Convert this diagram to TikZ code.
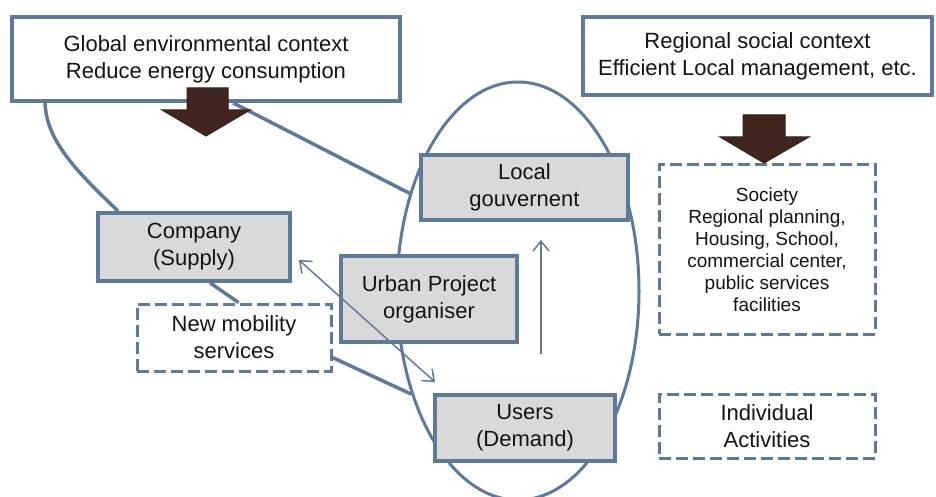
\documentclass[tikz,border=0pt]{standalone}
\usepackage{fontspec}
\setmainfont{Liberation Sans}
\usetikzlibrary{shapes.geometric,arrows.meta,calc}
\definecolor{edge}{RGB}{95,122,153}
\definecolor{boxgray}{RGB}{217,217,217}
\definecolor{brownarrow}{RGB}{64,38,30}
\definecolor{txt}{RGB}{20,20,20}
\begin{document}
\begin{tikzpicture}[x=1pt,y=-1pt,
  box/.style={draw=edge, line width=3.8pt, fill=boxgray, align=center, inner sep=0pt,
              font=\fontsize{22}{27}\selectfont, text=txt},
  ctxbox/.style={box, fill=white},
  dbox/.style={box, fill=white, dash pattern=on 12pt off 5pt, line width=3pt},
  conn/.style={draw=edge, line width=3.5pt},
  thinarrow/.style={draw=edge, line width=1.5pt, -{Straight Barb[length=10pt,width=16pt]}},
  thindouble/.style={draw=edge, line width=1.5pt, {Straight Barb[length=10pt,width=16pt]}-{Straight Barb[length=10pt,width=16pt]}},
  blockarrow/.style={fill=brownarrow, draw=brownarrow!85!black, line width=1pt, line join=miter},
]
\useasboundingbox (0,0) rectangle (936,497);
% ellipse
\node[ellipse, draw=edge, line width=3pt, minimum width=242pt, minimum height=418pt, inner sep=0pt] (ell) at (518,291) {};
% context boxes
\node[ctxbox, minimum width=388pt, minimum height=84pt] (glob) at (206,59)
  {Global environmental context\\Reduce energy consumption};
\node[ctxbox, minimum width=349pt, minimum height=78pt] (reg) at (757.5,56)
  {Regional social context\\Efficient Local management, etc.};
% gray boxes
\node[box, minimum width=207pt, minimum height=65pt] (loc) at (524.5,187.5) {Local\\gouvernent};
\node[box, minimum width=192pt, minimum height=68pt] (comp) at (194,247) {Company\\(Supply)};
\node[box, minimum width=176pt, minimum height=86pt] (urban) at (429,299) {Urban Project\\organiser};
\node[box, minimum width=180pt, minimum height=66pt] (users) at (525,428) {Users\\(Demand)};
% dashed boxes
\node[dbox, minimum width=194pt, minimum height=67pt] (nm) at (234,337.5) {New mobility\\services};
\node[dbox, minimum width=216pt, minimum height=169pt, font=\fontsize{19}{22}\selectfont] (soc) at (767,249.5)
  {Society\\Regional planning,\\Housing, School,\\commercial center,\\public services\\facilities};
\node[dbox, minimum width=216pt, minimum height=64pt] (ind) at (767,426) {Individual\\Activities};
% connectors
\draw[conn] ($(glob.south west)+(35,0)$) .. controls +(1,37) and +(-43,-41) .. ($(comp.north west)+(22,0)$);
\draw[conn] ($(glob.south west)+(223,0)$) -- (ell.138);
\draw[conn] ($(comp.south west)+(114,0)$) -- ($(nm.north west)+(103,0)$);
\draw[conn] ($(nm.east)+(0,20)$) -- (ell.224);
% block arrows
\draw[blockarrow] (187,88) -- (228,88) -- (228,110) -- (250,110) -- (206,136) -- (162,110) -- (187,110) -- cycle;
\draw[blockarrow] (743,115) -- (785,115) -- (785,137) -- (809,137) -- (764,163) -- (720,137) -- (743,137) -- cycle;
% thin arrows
\draw[thindouble] ($(comp.east)+(7,13)$) -- ($(users.north west)+(2,-11)$);
\draw[thinarrow] ($(users.north)+(16,-39)$) -- ($(loc.south)+(16.5,18)$);
\end{tikzpicture}
\end{document}
